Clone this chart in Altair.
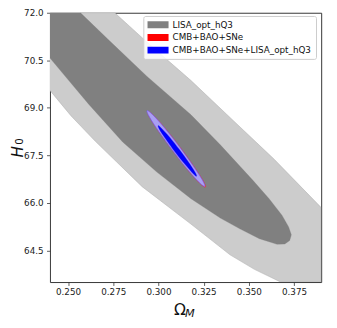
import altair as alt
import pandas as pd

# ---- contour outlines (Omega_M, H0) ----
# LISA_opt_hQ3, outer (2 sigma) region, clipped at the frame
lisa2_om = [0.2400, 0.2758, 0.2937, 0.3180, 0.3413, 0.3639, 0.3900, 0.3900,
            0.3676, 0.3531, 0.3396, 0.3180, 0.2910, 0.2650, 0.2516, 0.2400]
lisa2_h0 = [72.00, 72.00, 71.07, 69.86, 68.60, 67.38, 65.85, 63.50,
            63.50, 63.90, 64.36, 65.33, 66.51, 67.95, 68.75, 69.55]

# LISA_opt_hQ3, inner (1 sigma) region, clipped at the frame
lisa1_om = [0.2400, 0.2569, 0.2721, 0.2937, 0.3180, 0.3342, 0.3521, 0.3612,
            0.3683, 0.3720, 0.3735, 0.3726, 0.3699, 0.3656, 0.3558, 0.3450,
            0.3342, 0.3180, 0.2991, 0.2802, 0.2613, 0.2400]
lisa1_h0 = [72.00, 72.00, 71.16, 69.99, 68.78, 67.83, 66.72, 66.13,
            65.61, 65.24, 64.99, 64.81, 64.70, 64.69, 64.87, 65.18,
            65.52, 66.13, 66.97, 67.92, 69.12, 70.57]

# CMB+BAO+SNe, 2 sigma
red2_om = [0.3259, 0.3246, 0.3194, 0.3117, 0.3035, 0.2970, 0.2940, 0.2953,
           0.3005, 0.3083, 0.3164, 0.3229]
red2_h0 = [66.50, 66.70, 67.16, 67.77, 68.36, 68.77, 68.89, 68.69,
           68.23, 67.62, 67.03, 66.62]

# CMB+BAO+SNe+LISA_opt_hQ3, 2 sigma
comb2_om = [0.3256, 0.3243, 0.3191, 0.3114, 0.3032, 0.2967, 0.2937, 0.2950,
            0.3002, 0.3080, 0.3161, 0.3226]
comb2_h0 = [66.52, 66.72, 67.18, 67.79, 68.38, 68.79, 68.91, 68.71,
            68.25, 67.64, 67.05, 66.64]

# CMB+BAO+SNe+LISA_opt_hQ3, 1 sigma
comb1_om = [0.3211, 0.3202, 0.3167, 0.3116, 0.3061, 0.3018, 0.2998, 0.3007,
            0.3042, 0.3094, 0.3149, 0.3192]
comb1_h0 = [66.84, 66.97, 67.28, 67.68, 68.08, 68.35, 68.44, 68.30,
            68.00, 67.59, 67.20, 66.92]

legend_names = ["LISA_opt_hQ3", "CMB+BAO+SNe", "CMB+BAO+SNe+LISA_opt_hQ3"]
x_ticks = [0.25, 0.275, 0.30, 0.325, 0.35, 0.375]
y_ticks = [64.5, 66.0, 67.5, 69.0, 70.5, 72.0]

# ---- build table ----
contours = [
    ("LISA_opt_hQ3 2s", lisa2_om, lisa2_h0),
    ("LISA_opt_hQ3", lisa1_om, lisa1_h0),
    ("CMB+BAO+SNe 2s", red2_om, red2_h0),
    ("CMB+BAO+SNe+LISA_opt_hQ3 2s", comb2_om, comb2_h0),
    ("CMB+BAO+SNe+LISA_opt_hQ3", comb1_om, comb1_h0),
]
rows = []
for key, oms, hs in contours:
    for i, (o, h) in enumerate(zip(oms, hs)):
        rows.append({"key": key, "om": o, "h0": h, "idx": i})
df = pd.DataFrame(rows)

fill_scale = alt.Scale(
    domain=legend_names + ["LISA_opt_hQ3 2s", "CMB+BAO+SNe 2s", "CMB+BAO+SNe+LISA_opt_hQ3 2s"],
    range=["#808080", "#ff0000", "#0000ff", "#cccccc", "#ff9090", "#a99ff2"],
)
legend = alt.Legend(
    title=None, orient="none", legendX=95.7, legendY=3.3, values=legend_names,
    symbolType="M-1,-0.33L1,-0.33L1,0.33L-1,0.33Z", symbolSize=471,
    symbolStrokeWidth=0, symbolOpacity=1,
    labelFont="DejaVu Sans", labelFontSize=9, labelColor="#111111",
    labelOffset=4, padding=4, rowPadding=3, clipHeight=10, labelLimit=300,
    strokeColor="#cccccc", fillColor="rgba(255,255,255,0.85)", cornerRadius=2,
)

x_enc = alt.X("om:Q", scale=alt.Scale(domain=[0.24, 0.39], nice=False, zero=False),
              axis=alt.Axis(values=x_ticks, format=".3f", title="Ω", titleFontSize=16,
                            titleX=132.8, titleY=33.3, titleAlign="center",
                            titleBaseline="alphabetic", labelPadding=2.5))
y_enc = alt.Y("h0:Q", scale=alt.Scale(domain=[63.5, 72.0], nice=False, zero=False),
              axis=alt.Axis(values=y_ticks, format=".1f", title="H", titleFontSize=15.5,
                            titleFontStyle="italic", titleAngle=270, titleX=-28.5,
                            titleY=142, titleAlign="center", titleBaseline="alphabetic",
                            labelPadding=3.5))

base = alt.Chart(df)


def layer(key, stroke, sw, interp):
    return base.transform_filter(alt.datum.key == key).mark_line(
        interpolate=interp, stroke=stroke, strokeWidth=sw, clip=True
    ).encode(
        x=x_enc, y=y_enc, order=alt.Order("idx:Q"),
        fill=alt.Fill("key:N", scale=fill_scale, legend=legend),
    )


layers = [
    layer("LISA_opt_hQ3 2s", "#b4b4b4", 0.6, "linear"),
    layer("LISA_opt_hQ3", "#808080", 0.3, "linear"),
    layer("CMB+BAO+SNe 2s", "#ff2020", 0.8, "cardinal-closed"),
    layer("CMB+BAO+SNe+LISA_opt_hQ3 2s", "#6a5cf0", 0.7, "cardinal-closed"),
    layer("CMB+BAO+SNe+LISA_opt_hQ3", "#2a1ae0", 0.3, "cardinal-closed"),
]

sub_m = alt.Chart(pd.DataFrame({"t": ["M"]})).mark_text(
    font="DejaVu Sans", fontSize=11.5, fontStyle="italic", align="left",
    baseline="alphabetic", color="#111111"
).encode(text="t:N", x=alt.value(138.3), y=alt.value(312))

sub_0 = alt.Chart(pd.DataFrame({"t": ["0"]})).mark_text(
    font="DejaVu Sans", fontSize=10.5, angle=270, align="center",
    baseline="alphabetic", color="#111111"
).encode(text="t:N", x=alt.value(-27.5), y=alt.value(132))

chart = alt.layer(*layers, sub_m, sub_0).properties(
    width=278, height=276,
    autosize=alt.AutoSizeParams(type="none"),
    padding={"left": 43, "top": 1, "right": 8, "bottom": 34},
).configure_view(
    stroke="#333333", strokeWidth=1
).configure_axis(
    grid=False, domain=False, tickColor="#333333", tickSize=3.5, tickWidth=0.8,
    labelFont="DejaVu Sans", labelFontSize=9, labelColor="#222222",
    titleFont="DejaVu Sans", titleFontWeight="normal", titleColor="#111111",
)

chart.save("out.html", embed_options={"renderer": "svg", "actions": False})
